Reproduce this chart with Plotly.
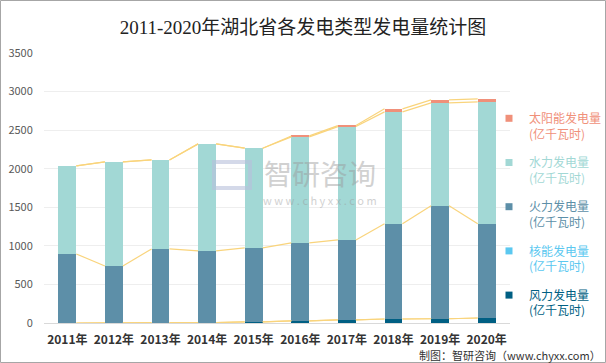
import plotly.graph_objects as go

years = ["2011年", "2012年", "2013年", "2014年", "2015年", "2016年", "2017年", "2018年", "2019年", "2020年"]
wind = [0, 2, 4, 6, 15, 28, 40, 52, 55, 65]
nuclear = [0, 0, 0, 0, 0, 0, 0, 0, 0, 0]
thermal = [895, 737, 956, 928, 958, 1010, 1037, 1234, 1466, 1223]
hydro = [1141, 1349, 1154, 1388, 1293, 1374, 1469, 1451, 1332, 1578]
solar = [0, 0, 0, 0, 0, 13, 13, 39, 39, 39]

names = ["风力发电量<br>(亿千瓦时)", "核能发电量<br>(亿千瓦时)", "火力发电量<br>(亿千瓦时)",
         "水力发电量<br>(亿千瓦时)", "太阳能发电量<br>(亿千瓦时)"]
series = [wind, nuclear, thermal, hydro, solar]
colors = ["#005f83", "#5bc8f0", "#5d8fa8", "#a2d8d5", "#f0907a"]

W, H = 606, 363
ML, MR, MT, MB = 44, 96, 53, 40
PW, PH = W - ML - MR, H - MT - MB
BW = 0.386
idx = list(range(len(years)))

fig = go.Figure()

# stacked bars
for vals, col in zip(series, colors):
    fig.add_trace(go.Bar(x=idx, y=vals, width=BW, marker=dict(color=col, line=dict(width=0)),
                         showlegend=False, hoverinfo="y"))

# series lines connecting tops of each level
cum = [0] * len(years)
for vals in series:
    cum = [c + v for c, v in zip(cum, vals)]
    xs, ys = [], []
    for i in range(len(years) - 1):
        xs += [i + BW / 2, i + 1 - BW / 2, None]
        ys += [cum[i], cum[i + 1], None]
    fig.add_trace(go.Scatter(x=xs, y=ys, mode="lines", line=dict(color="#f9d47c", width=1.2),
                             showlegend=False, hoverinfo="skip"))

# legend entries (top to bottom)
for k in [4, 3, 2, 1, 0]:
    fig.add_trace(go.Scatter(
        x=[None], y=[None], mode="markers",
        marker=dict(symbol="square", size=7, color=colors[k]),
        name="<span style='color:%s'>%s</span>" % (colors[k], names[k]),
        legendgroup="g%d" % k, showlegend=True))

def px(xp):
    return (xp - ML) / PW

def py(yp):
    return (H - MB - yp) / PH

fig.update_layout(
    width=W, height=H,
    margin=dict(l=ML, r=MR, t=MT, b=MB, autoexpand=False),
    paper_bgcolor="white", plot_bgcolor="white",
    barmode="stack",
    font=dict(family="Noto Sans CJK SC, sans-serif", color="#595959", size=11),
    title=dict(text="2011-2020年湖北省各发电类型发电量统计图", x=0.5, xanchor="center",
               y=1 - 27 / H, yanchor="middle",
               font=dict(family="Liberation Serif, Noto Sans CJK SC, serif", size=19, color="#222222")),
    xaxis=dict(range=[-0.5, len(years) - 0.5], tickvals=idx, ticktext=["<b>%s</b>" % y for y in years],
               showgrid=False, zeroline=False, showline=True, linecolor="#d9d9d9", linewidth=1,
               ticks="outside", ticklen=6, tickcolor="rgba(0,0,0,0)",
               tickfont=dict(size=12, color="#333333", family="Noto Sans CJK SC, sans-serif"),
               fixedrange=True, automargin=False),
    yaxis=dict(range=[0, 3500], dtick=500, showgrid=True, gridcolor="#eeeeee", gridwidth=1,
               zeroline=False, showline=False,
               ticks="outside", ticklen=8, tickcolor="rgba(0,0,0,0)",
               tickfont=dict(size=11, color="#595959"), fixedrange=True, automargin=False),
    legend=dict(x=px(489), y=py(104), xanchor="left", yanchor="top",
                traceorder="grouped", tracegroupgap=10, valign="top",
                font=dict(size=12, family="Noto Sans CJK SC, sans-serif"),
                bgcolor="rgba(0,0,0,0)", itemwidth=30),
    showlegend=True,
)

# watermark
fig.add_annotation(x=px(320), y=py(173), xref="paper", yref="paper", text="智研咨询",
                   showarrow=False, font=dict(size=28, color="#9a9a9a"), opacity=0.45)
fig.add_annotation(x=px(320), y=py(200), xref="paper", yref="paper", text="w w w . c h y x x . c o m",
                   showarrow=False, font=dict(size=11, color="#9a9a9a"), opacity=0.45)
fig.add_shape(type="rect", xref="paper", yref="paper", x0=px(214), x1=px(250), y0=py(188), y1=py(162),
              line=dict(color="#b8c0dc", width=4), fillcolor="rgba(0,0,0,0)", opacity=0.6)

# source
fig.add_annotation(x=px(603), y=py(355), xref="paper", yref="paper", xanchor="right", yanchor="middle",
                   text="制图：智研咨询（www.chyxx.com）", showarrow=False,
                   font=dict(size=11, color="#333333"))

# outer border
fig.add_shape(type="rect", xref="paper", yref="paper", x0=px(0.5), x1=px(W - 0.5), y0=py(H - 0.5), y1=py(0.5),
              line=dict(color="#a6a6a6", width=1), fillcolor="rgba(0,0,0,0)", layer="above")

fig.write_html("out.html", config={"displayModeBar": False},
               post_script="document.body.style.margin='0';document.body.style.overflow='hidden';")
